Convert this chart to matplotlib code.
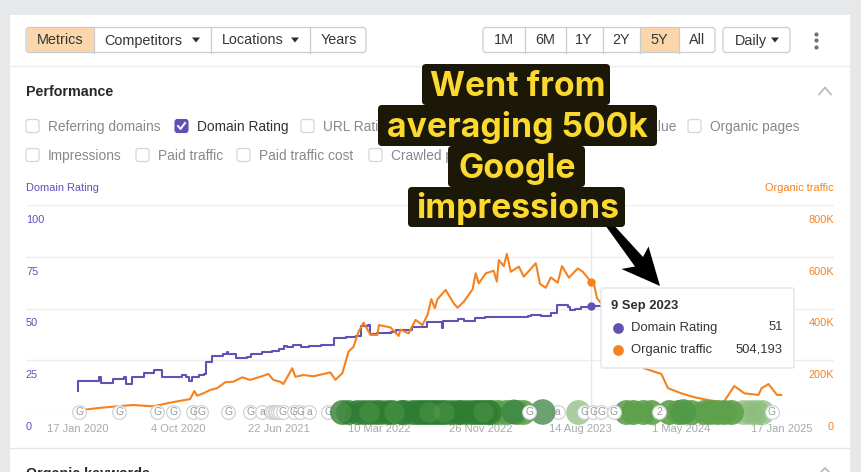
import matplotlib
matplotlib.use('Agg')
import matplotlib.pyplot as plt
from matplotlib.patches import FancyBboxPatch, Polygon, Rectangle

plt.rcParams['font.family'] = ['Liberation Sans', 'DejaVu Sans']

W, H = 861, 472
PURPLE = '#5f52b5'
ORANGE = '#f5821f'
GREY_TEXT = '#85888c'
DARK_TEXT = '#33363a'
GRID = '#eceef0'
PEACH = '#fbd6aa'
BORDER = '#c9cbce'

# days since 17 Jan 2020
dr_days = [0, 1, 55, 59, 91, 120, 125, 141, 172, 198, 218, 270, 281, 289, 296, 315, 328, 333, 349, 377,
           387, 389, 411, 439, 449, 478, 504, 521, 534, 543, 559, 578, 600, 630, 647, 664, 695, 721, 734,
           753, 758, 777, 812, 825, 868, 907, 942, 944, 946, 959, 985, 1001, 1029, 1055, 1168, 1176, 1202,
           1228, 1244, 1272, 1276, 1289, 1306, 1331, 1800]
dr_values = [10.3, 15, 17, 14, 16, 17, 13.5, 17, 19, 20.2, 17, 18, 17, 15, 17, 18, 18.5, 24.3, 27, 28,
             28.8, 27.8, 26.2, 26.8, 28, 29, 29.7, 30.5, 32, 31.5, 32.3, 31.2, 32, 32.4, 32.3, 35.6, 36, 36.7, 41.5,
             42, 37.5, 38, 38.6, 39.5, 41, 43.3, 43.6, 40.6, 43.8, 44, 44.8, 44.2, 45.4, 46, 46.3, 47, 46.6,
             48, 51.7, 50.9, 49.3, 50, 50.8, 51, 51]

traffic_days = [0, 57, 109, 143, 195, 239, 291, 302, 309, 325, 343, 361, 382, 403, 426, 447, 481, 494, 507,
                525, 533, 556, 564, 585, 611, 655, 668, 686, 702, 715, 728, 741, 759, 777, 781, 811, 832, 837,
                858, 876, 894, 907, 917, 926, 933, 954, 975, 985, 1001, 1024, 1032, 1040, 1058, 1079, 1087,
                1092, 1105, 1113, 1123, 1144, 1157, 1188, 1199, 1214, 1227, 1245, 1256, 1274, 1297, 1310, 1331,
                1339, 1347, 1358, 1422, 1469, 1514, 1531, 1566, 1600, 1636, 1675, 1703, 1730, 1766, 1774, 1792,
                1814, 1825]
traffic_values = [6, 16, 23, 27, 22, 36, 50, 81, 63, 72, 85, 92, 115, 117, 134, 124, 140, 147, 124,
                  117, 108, 169, 136, 143, 138, 153, 124, 150, 233, 252, 310, 345, 298, 298, 336, 327, 294, 318,
                  304, 356, 336, 375, 436, 401, 436, 472, 420, 403, 426, 474, 536, 497, 536, 546, 504,
                  587, 564, 611, 542, 562, 523, 575, 495, 480, 520, 500, 564, 519, 555, 542, 504,
                  495, 439, 420, 250, 169, 147, 92, 72, 57, 46, 37, 100, 72, 66, 92, 108,
                  66, 66]

tick_days = [0, 261, 522, 783, 1044, 1305, 1566, 1827]
tick_labels = ['17 Jan 2020', '4 Oct 2020', '22 Jun 2021', '10 Mar 2022', '26 Nov 2022',
               '14 Aug 2023', '1 May 2024', '17 Jan 2025']
dr_ticks = [100, 75, 50, 25, 0]
traffic_ticks = [800, 600, 400, 200, 0]

# annotation markers along the baseline
update_days = [3, 107, 206, 247, 299, 320, 390, 447, 478, 500, 505, 510, 515, 520, 525, 531, 560, 577, 600,
               650, 1245]
update_marks = ['G', 'G', 'G', 'G', 'G', 'G', 'G', 'G', 'a', '', '', '', '', '', '', 'G', 'G', 'G', 'a',
                'G', 'a']
dark_days = [686, 700, 723, 739, 754, 770, 785, 801, 816, 837, 847, 868, 879, 889, 900, 910, 920, 931,
             941, 952, 967, 983, 993, 1009, 1024, 1035, 1045, 1056, 1066]
highlight_days = [682, 755, 820, 910, 950, 1050]
light_days = [1075, 1090, 1112, 1140, 1154, 1422, 1440, 1466, 1487, 1534, 1558, 1592, 1625,
              1640, 1659, 1677, 1695]
faint_days = [1297, 1726, 1745, 1760, 1774]
front_days = [1131, 1571, 1206]
front_sizes = [320, 340, 340]
front_colors = ['#3f8a46', '#4f9a4a', '#5d9664']
top_days = [1171, 1314, 1337, 1358, 1390, 1508, 1800]
top_marks = ['G', 'G', 'G', 'G', 'G', '2', 'G']

checkboxes = [('Referring domains', 26, 126, False), ('Domain Rating', 175, 126, True),
              ('URL Rating', 301, 126, False), ('Organic pages', 688, 126, False),
              ('Impressions', 26, 155, False), ('Paid traffic', 136, 155, False),
              ('Paid traffic cost', 237, 155, False), ('Crawled pages', 369, 155, False)]
left_buttons = [('Metrics', 26, 94), ('Competitors', 94, 211), ('Locations', 211, 310), ('Years', 310, 366)]
range_buttons = [('1M', 483, 524.5), ('6M', 524.5, 565.5), ('1Y', 565.5, 602.5), ('2Y', 602.5, 640),
                 ('5Y', 640, 678.5), ('All', 678.5, 715)]
callout_lines = [('Went from', 422, 610, 64, 105), ('averaging 500k', 378, 657, 105, 146),
                 ('Google', 448, 585, 146, 187), ('impressions', 408, 625, 187, 227)]


def round_box(ax, x0, y0, x1, y1, r=3, **kw):
    box = FancyBboxPatch((x0, y0), x1 - x0, y1 - y0, boxstyle=f'round,pad=0,rounding_size={r}', **kw)
    ax.add_patch(box)
    return box


def caret(ax, x, y):
    ax.add_patch(Polygon([(x - 4, y - 2), (x + 4, y - 2), (x, y + 3)], color='#2b2d30', lw=0))


def overlay_axes(fig, zorder):
    ax = fig.add_axes([0, 0, 1, 1], zorder=zorder)
    ax.set_xlim(0, W)
    ax.set_ylim(H, 0)
    ax.axis('off')
    ax.patch.set_alpha(0)
    return ax


def badges(ax, days, marks, zorder):
    ax.scatter(days, [0] * len(days), s=98, fc='white', ec='#d0d3d5', lw=0.9, zorder=zorder, clip_on=False)
    for d, m in zip(days, marks):
        ax.text(d, 0, m, fontsize=7.4, color='#96999c', ha='center', va='center', zorder=zorder + 0.1)


fig = plt.figure(figsize=(W / 100, H / 100), dpi=100, facecolor='#e7e8ea')

# page furniture behind the chart
ax_ui = overlay_axes(fig, 0)
ax_ui.add_patch(Rectangle((10, 15), 840, H, color='white', lw=0))
ax_ui.plot([10, 850], [65.5, 65.5], color='#e9ebed', lw=1)
ax_ui.plot([10, 850], [447.5, 447.5], color='#e4e6e8', lw=1)

round_box(ax_ui, 26, 27.5, 366, 52.5, fc='white', ec=BORDER, lw=0.9)
ax_ui.add_patch(Rectangle((27, 28), 67, 24, color=PEACH, lw=0))
for label, x0, x1 in left_buttons:
    if x0 > 26:
        ax_ui.plot([x0, x0], [27.5, 52.5], color=BORDER, lw=0.9)
    has_caret = label in ('Competitors', 'Locations')
    ax_ui.text(x0 + 10.5, 40.5, label, fontsize=10.4, color=DARK_TEXT, va='center')
    if has_caret:
        caret(ax_ui, x1 - 15, 39.5)

round_box(ax_ui, 483, 27.5, 715, 52.5, fc='white', ec=BORDER, lw=0.9)
ax_ui.add_patch(Rectangle((640, 28), 38.5, 24, color=PEACH, lw=0))
for label, x0, x1 in range_buttons:
    if x0 > 483:
        ax_ui.plot([x0, x0], [27.5, 52.5], color=BORDER, lw=0.9)
    ax_ui.text((x0 + x1) / 2, 40.5, label, fontsize=10.4, color=DARK_TEXT, va='center', ha='center')

round_box(ax_ui, 723, 27.5, 790, 52.5, fc='white', ec=BORDER, lw=0.9)
ax_ui.text(735, 40.5, 'Daily', fontsize=10.4, color=DARK_TEXT, va='center')
caret(ax_ui, 775, 39.5)
ax_ui.scatter([816, 816, 816], [33.5, 40, 46.5], s=9, color='#6d7074', lw=0)

ax_ui.text(26, 91.5, 'Performance', fontsize=10.3, fontweight='bold', color='#26282b', va='center')
ax_ui.plot([819, 825, 831], [94.5, 87.5, 94.5], color='#b5b8bb', lw=1.2)

for label, x, y, checked in checkboxes:
    if checked:
        round_box(ax_ui, x, y - 6.5, x + 13, y + 6.5, r=2.5, fc=PURPLE, ec=PURPLE, lw=0.8)
        ax_ui.plot([x + 3, x + 5.5, x + 10], [y, y + 3, y - 3], color='white', lw=1.4)
    else:
        round_box(ax_ui, x, y - 6.5, x + 13, y + 6.5, r=2.5, fc='white', ec='#d3d6d8', lw=0.9)
    ax_ui.text(x + 22, y + 1, label, fontsize=9.95, va='center',
               color='#2f3235' if checked else GREY_TEXT)
ax_ui.text(677, 127, 'Value', fontsize=9.95, color=GREY_TEXT, va='center', ha='right')

ax_ui.text(26, 188, 'Domain Rating', fontsize=7.9, color=PURPLE, va='center')
ax_ui.text(834, 188, 'Organic traffic', fontsize=7.9, color=ORANGE, va='center', ha='right')
ax_ui.text(26, 474, 'Organic keywords', fontsize=10.3, fontweight='bold', color='#26282b', va='center')
ax_ui.plot([819, 825, 831], [474, 468, 474], color='#b5b8bb', lw=1.2)

# chart, same pixel box as the original plot area
px_per_day = 704 / 1827
ax_dr = fig.add_axes([26 / W, 1 - 412 / H, 808 / W, 207 / H], zorder=1)
ax_dr.patch.set_alpha(0)
ax_dr.set_xlim(-52 / px_per_day, 756 / px_per_day)
ax_dr.set_ylim(0, 100)
for side in ax_dr.spines:
    ax_dr.spines[side].set_visible(False)
ax_dr.set_yticks([])
ax_dr.set_xticks(tick_days)
ax_dr.set_xticklabels(tick_labels, fontsize=8.0, color='#a6a9ac')
ax_dr.tick_params(axis='x', length=0, pad=9)
for v in dr_ticks:
    ax_dr.axhline(v, color=GRID, lw=1, zorder=1)
    ax_dr.annotate(str(v), (0, v), xycoords=ax_dr.get_yaxis_transform(), xytext=(0, -10.8),
                   textcoords='offset points', fontsize=7.9, color=PURPLE, va='center')
ax_dr.axvline(1331, color='#e6e8ea', lw=1, zorder=1)
ax_dr.plot(dr_days, dr_values, color=PURPLE, lw=1.5, drawstyle='steps-post', zorder=3)
ax_dr.scatter([1331], [51], s=36, color=PURPLE, lw=0, zorder=4)

ax_traffic = ax_dr.twinx()
ax_traffic.patch.set_alpha(0)
ax_traffic.set_ylim(0, 800)
for side in ax_traffic.spines:
    ax_traffic.spines[side].set_visible(False)
ax_traffic.set_yticks([])
for v in traffic_ticks:
    ax_traffic.annotate(f'{v}K' if v else '0', (1, v), xycoords=ax_traffic.get_yaxis_transform(),
                        xytext=(0, -10.8), textcoords='offset points', fontsize=7.9, color=ORANGE,
                        va='center', ha='right')
ax_traffic.plot(traffic_days, traffic_values, color=ORANGE, lw=1.5, zorder=3)
ax_traffic.scatter([1331], [504], s=36, color=ORANGE, lw=0, zorder=4)

# baseline markers
badges(ax_traffic, update_days, update_marks, 5)
ax_traffic.scatter(faint_days, [0] * len(faint_days), s=320, color='#8dbd7e', alpha=0.75, lw=0,
                   zorder=6, clip_on=False)
ax_traffic.scatter(light_days, [0] * len(light_days), s=320, color='#5ea04c', alpha=0.9, lw=0,
                   zorder=6.1, clip_on=False)
ax_traffic.scatter(dark_days, [0] * len(dark_days), s=320, color='#2e7d32', alpha=0.8, lw=0,
                   zorder=6.2, clip_on=False)
ax_traffic.scatter(highlight_days, [0] * len(highlight_days), s=220, color='#6aa958', alpha=0.3, lw=0,
                   zorder=6.3, clip_on=False)
ax_traffic.scatter(front_days, [0] * len(front_days), s=front_sizes, c=front_colors, alpha=0.9, lw=0,
                   zorder=6.4, clip_on=False)
badges(ax_traffic, top_days, top_marks, 7)

# tooltip and callout on top of everything
ax_top = overlay_axes(fig, 3)
round_box(ax_top, 601, 288, 794, 368, r=2, fc='white', ec='#e2e4e6', lw=1)
ax_top.text(611, 306.5, '9 Sep 2023', fontsize=9.4, fontweight='bold', color='#2b2d30', va='center')
ax_top.scatter([618], [327.5], s=60, color=PURPLE, lw=0)
ax_top.scatter([618], [349.5], s=60, color=ORANGE, lw=0)
ax_top.text(631, 327.5, 'Domain Rating', fontsize=9.4, color=DARK_TEXT, va='center')
ax_top.text(631, 349.5, 'Organic traffic', fontsize=9.4, color=DARK_TEXT, va='center')
ax_top.text(783, 327.5, '51', fontsize=9.4, color=DARK_TEXT, va='center', ha='right')
ax_top.text(783, 349.5, '504,193', fontsize=9.4, color=DARK_TEXT, va='center', ha='right')

ax_top.add_patch(Polygon([(606.5, 227), (615.5, 227), (643, 257), (648.5, 246.5), (660, 286),
                          (621.5, 269), (635, 266.5)], color='black', lw=0))
for text, x0, x1, y0, y1 in callout_lines:
    round_box(ax_top, x0, y0, x1, y1, r=4, fc='#1c1808', ec='none')
for text, x0, x1, y0, y1 in callout_lines:
    ax_top.text(517.5, y1 - 9, text, fontsize=24.3, fontweight='bold', color='#fbd92f',
                family=['Inter', 'Liberation Sans'], ha='center', va='baseline')

fig.savefig('out.png', dpi=100)
